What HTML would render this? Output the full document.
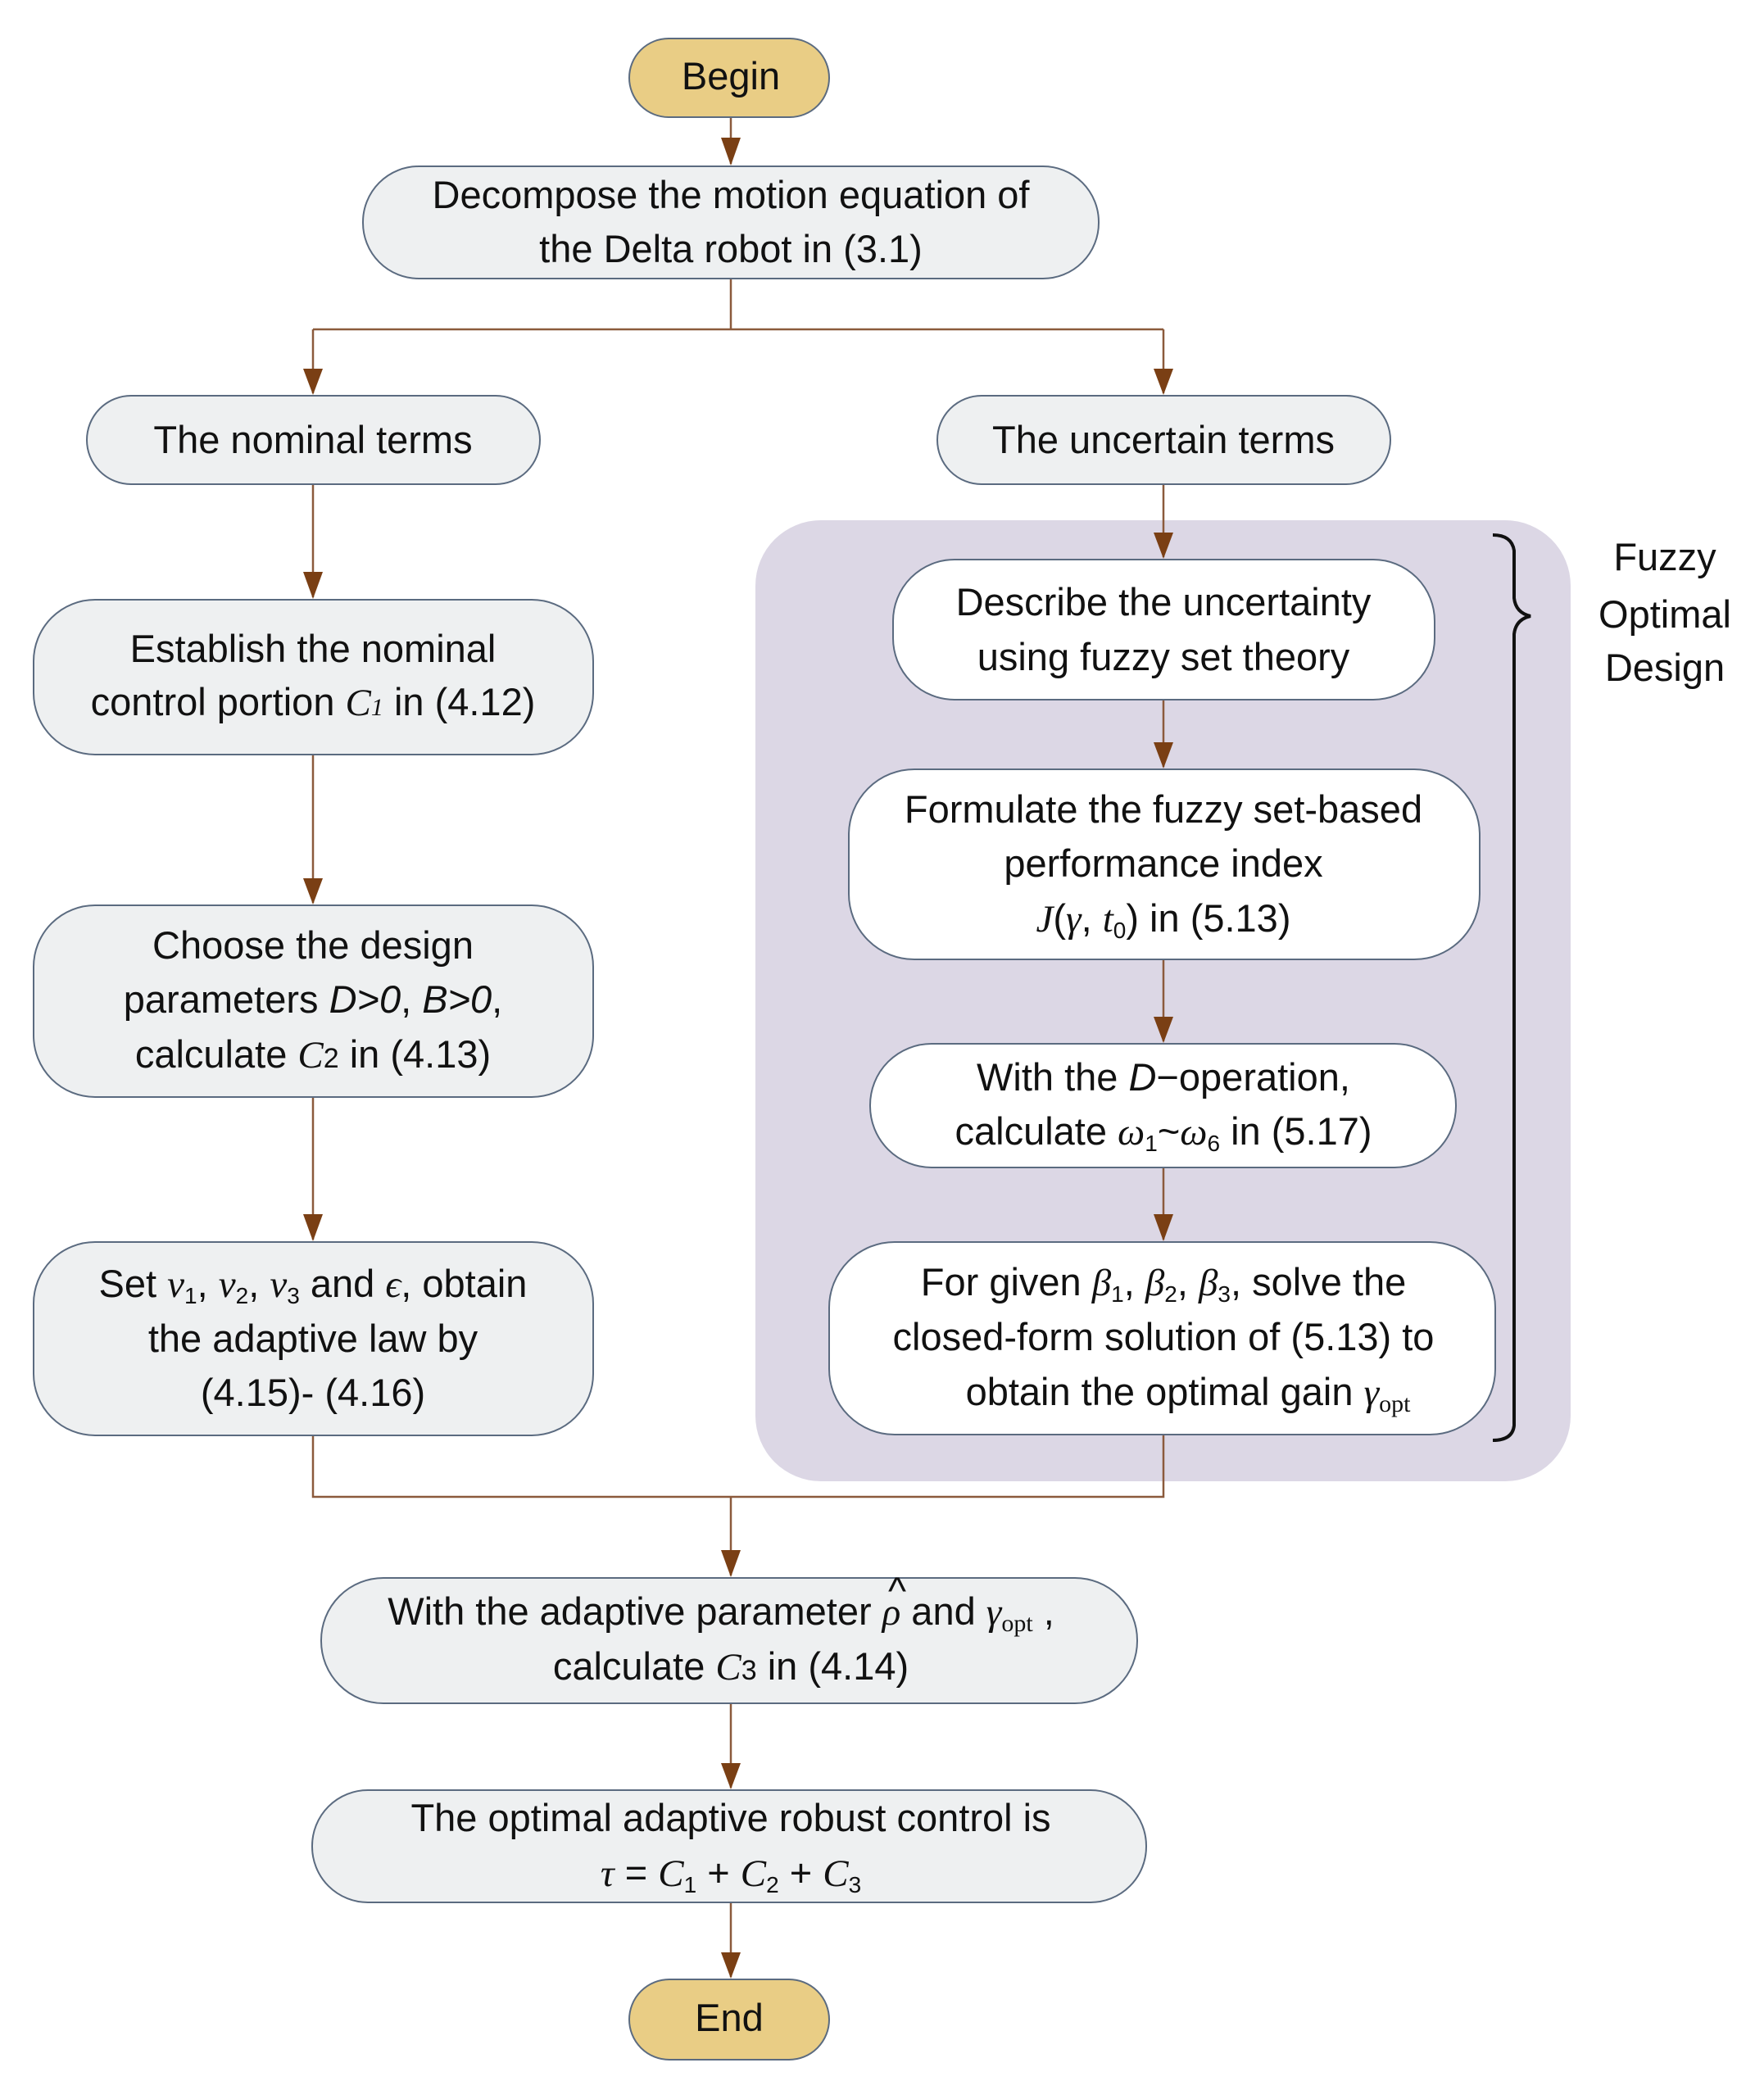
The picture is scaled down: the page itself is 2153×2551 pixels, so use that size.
<!DOCTYPE html>
<html><head><meta charset="utf-8"><style>
html,body{margin:0;padding:0;background:#fff}
svg text{font-family:"Liberation Sans",sans-serif;font-size:47px;fill:#111;text-anchor:middle}
.m{font-family:"Liberation Serif",serif;font-style:italic}
</style></head><body>
<svg width="2153" height="2546" viewBox="0 0 2153 2546" xmlns="http://www.w3.org/2000/svg">
<rect x="922" y="635" width="995" height="1173" rx="80" fill="#dcd7e5"/>
<g stroke="#8b5a3c" stroke-width="2.5" fill="none">
<path d="M892 143 V200"/>
<path d="M892 340 V402 M382 402 H1420 M382 402 V480 M1420 402 V480"/>
<path d="M382 591 V729"/>
<path d="M382 921 V1102"/>
<path d="M382 1339 V1513"/>
<path d="M1420 591 V680"/>
<path d="M1420 854 V936"/>
<path d="M1420 1171 V1271"/>
<path d="M1420 1425 V1513"/>
<path d="M382 1752 V1827 H1420 V1751 M892 1827 V1923"/>
<path d="M892 2079 V2182"/>
<path d="M892 2322 V2413"/>
</g>
<g fill="#7a3f14">
<path d="M880 168 L904 168 L892 202 z"/>
<path d="M370 450 L394 450 L382 482 z"/><path d="M1408 450 L1432 450 L1420 482 z"/>
<path d="M370 698 L394 698 L382 731 z"/><path d="M370 1072 L394 1072 L382 1104 z"/><path d="M370 1482 L394 1482 L382 1515 z"/>
<path d="M1408 650 L1432 650 L1420 682 z"/><path d="M1408 906 L1432 906 L1420 938 z"/><path d="M1408 1241 L1432 1241 L1420 1273 z"/><path d="M1408 1482 L1432 1482 L1420 1515 z"/>
<path d="M880 1892 L904 1892 L892 1925 z"/><path d="M880 2152 L904 2152 L892 2184 z"/><path d="M880 2383 L904 2383 L892 2415 z"/>
</g>
<g stroke="#5b6b80" stroke-width="2">
<rect x="768" y="47" width="244" height="96" rx="48" fill="#e9cd85"/>
<rect x="768" y="2416" width="244" height="98" rx="49" fill="#e9cd85"/>
<rect x="443" y="203" width="898" height="137" rx="68" fill="#eef0f1"/>
<rect x="106" y="483" width="553" height="108" rx="54" fill="#eef0f1"/>
<rect x="1144" y="483" width="553" height="108" rx="54" fill="#eef0f1"/>
<rect x="41" y="732" width="683" height="189" rx="75" fill="#eef0f1"/>
<rect x="41" y="1105" width="683" height="234" rx="75" fill="#eef0f1"/>
<rect x="41" y="1516" width="683" height="236" rx="75" fill="#eef0f1"/>
<rect x="392" y="1926" width="996" height="153" rx="76" fill="#eef0f1"/>
<rect x="381" y="2185" width="1018" height="137" rx="68" fill="#eef0f1"/>
<rect x="1090" y="683" width="661" height="171" rx="75" fill="#fff"/>
<rect x="1036" y="939" width="770" height="232" rx="80" fill="#fff"/>
<rect x="1062" y="1274" width="715" height="151" rx="75" fill="#fff"/>
<rect x="1012" y="1516" width="813" height="235" rx="80" fill="#fff"/>
</g>
<path d="M1822 653 Q1845 653 1848 672 V730 Q1850 748 1868 752 Q1850 756 1848 774 V1740 Q1846 1758 1822 1758" stroke="#111" stroke-width="4" fill="none"/>
<text x="892" y="109">Begin</text>
<text x="892" y="254">Decompose the motion equation of</text>
<text x="892" y="320">the Delta robot in (3.1)</text>
<text x="382" y="553">The nominal terms</text>
<text x="1420" y="553">The uncertain terms</text>
<text x="382" y="808">Establish the nominal</text>
<text x="382" y="873">control portion <tspan class="m">C</tspan><tspan class="m" font-size="30">1</tspan> in (4.12)</text>
<text x="382" y="1170">Choose the design</text>
<text x="382" y="1236">parameters <tspan font-style="italic">D&gt;0</tspan>, <tspan font-style="italic">B&gt;0</tspan>,</text>
<text x="382" y="1303">calculate <tspan class="m">C</tspan><tspan font-size="34">2</tspan> in (4.13)</text>
<text x="382" y="1583">Set <tspan class="m">v</tspan><tspan font-size="28" dy="8">1</tspan><tspan dy="-8">, </tspan><tspan class="m">v</tspan><tspan font-size="28" dy="8">2</tspan><tspan dy="-8">, </tspan><tspan class="m">v</tspan><tspan font-size="28" dy="8">3</tspan><tspan dy="-8"> and </tspan><tspan class="m">ϵ</tspan>, obtain</text>
<text x="382" y="1650">the adaptive law by</text>
<text x="382" y="1716">(4.15)- (4.16)</text>
<text x="1420" y="751">Describe the uncertainty</text>
<text x="1420" y="818">using fuzzy set theory</text>
<text x="1420" y="1004">Formulate the fuzzy set-based</text>
<text x="1420" y="1070">performance index</text>
<text x="1420" y="1137"><tspan class="m">J</tspan>(<tspan class="m">γ</tspan>, <tspan class="m">t</tspan><tspan font-size="28" dy="8">0</tspan><tspan dy="-8">) in (5.13)</tspan></text>
<text x="1420" y="1331">With the <tspan font-style="italic">D</tspan>−operation,</text>
<text x="1420" y="1397">calculate <tspan class="m">ω</tspan><tspan font-size="28" dy="8">1</tspan><tspan dy="-8">~</tspan><tspan class="m">ω</tspan><tspan font-size="28" dy="8">6</tspan><tspan dy="-8"> in (5.17)</tspan></text>
<text x="1420" y="1581">For given <tspan class="m">β</tspan><tspan font-size="28" dy="8">1</tspan><tspan dy="-8">, </tspan><tspan class="m">β</tspan><tspan font-size="28" dy="8">2</tspan><tspan dy="-8">, </tspan><tspan class="m">β</tspan><tspan font-size="28" dy="8">3</tspan><tspan dy="-8">, solve the</tspan></text>
<text x="1420" y="1648">closed-form solution of (5.13) to</text>
<text x="1450" y="1715">obtain the optimal gain <tspan class="m">γ</tspan><tspan font-family="Liberation Serif" font-size="30" dy="8">opt</tspan></text>
<text x="2032" y="696">Fuzzy</text>
<text x="2032" y="766">Optimal</text>
<text x="2032" y="831">Design</text>
<text x="880" y="1983">With the adaptive parameter <tspan class="m">ρ</tspan> and <tspan class="m">γ</tspan><tspan font-family="Liberation Serif" font-size="30" dy="8">opt</tspan><tspan dy="-8"> ,</tspan></text>
<text x="1095" y="1958" font-size="34">^</text>
<text x="892" y="2050">calculate <tspan class="m">C</tspan><tspan font-size="34">3</tspan> in (4.14)</text>
<text x="892" y="2235">The optimal adaptive robust control is</text>
<text x="892" y="2302"><tspan class="m">τ</tspan> = <tspan class="m">C</tspan><tspan font-size="28" dy="8">1</tspan><tspan dy="-8"> + </tspan><tspan class="m">C</tspan><tspan font-size="28" dy="8">2</tspan><tspan dy="-8"> + </tspan><tspan class="m">C</tspan><tspan font-size="28" dy="8">3</tspan></text>
<text x="890" y="2479">End</text>
</svg>
</body></html>
